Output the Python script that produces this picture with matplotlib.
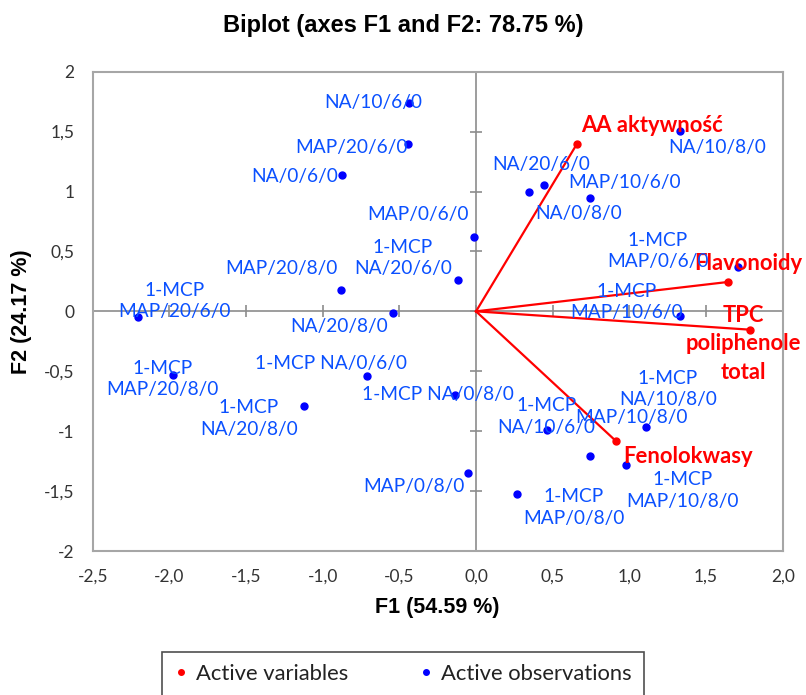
import matplotlib
matplotlib.use("Agg")
import matplotlib.pyplot as plt
from matplotlib.lines import Line2D

# observations (F1, F2)
obs_names = ["NA/10/6/0", "MAP/20/6/0", "NA/0/6/0", "MAP/0/6/0", "1-MCP\nNA/20/6/0",
             "MAP/20/8/0", "NA/20/8/0", "1-MCP\nMAP/20/6/0", "1-MCP\nMAP/20/8/0",
             "1-MCP\nNA/20/8/0", "1-MCP NA/0/6/0", "1-MCP NA/0/8/0", "MAP/0/8/0",
             "NA/10/8/0", "NA/20/6/0", "NA/0/8/0", "MAP/10/6/0", "1-MCP\nMAP/0/6/0",
             "1-MCP\nMAP/10/6/0", "1-MCP\nNA/10/6/0", "1-MCP\nNA/10/8/0", "MAP/10/8/0",
             "1-MCP\nMAP/10/8/0", "1-MCP\nMAP/0/8/0"]
obs_f1 = [-0.437, -0.446, -0.872, -0.011, -0.119, -0.881, -0.539, -2.203, -1.974,
          -1.122, -0.713, -0.137, -0.050, 1.331, 0.446, 0.348, 0.744, 1.707,
          1.331, 0.461, 1.107, 0.744, 0.977, 0.265]
obs_f2 = [1.742, 1.395, 1.139, 0.617, 0.264, 0.181, -0.013, -0.050, -0.528,
          -0.786, -0.542, -0.694, -1.347, 1.506, 1.056, 0.992, 0.950, 0.370,
          -0.042, -0.994, -0.967, -1.208, -1.286, -1.528]

# variables (F1, F2)
var_names = ["AA aktywność", "Flavonoidy", "TPC\npoliphenole\ntotal", "Fenolokwasy"]
var_f1 = [0.657, 1.642, 1.787, 0.913]
var_f2 = [1.395, 0.245, -0.153, -1.083]

xticks = [-2.5, -2.0, -1.5, -1.0, -0.5, 0.0, 0.5, 1.0, 1.5, 2.0]
xtick_labels = ["-2,5", "-2,0", "-1,5", "-1,0", "-0,5", "0,0", "0,5", "1,0", "1,5", "2,0"]
yticks = [-2, -1.5, -1, -0.5, 0, 0.5, 1, 1.5, 2]
ytick_labels = ["-2", "-1,5", "-1", "-0,5", "0", "0,5", "1", "1,5", "2"]

# label offsets in pixels (dx right, dy down) from each point
obs_off = [(-36, 0), (-56, 3), (-48, 2), (-56, -23), (-55, -22), (-60, -21), (-54, 14),
           (36, -16), (-11, 4), (-55, 13), (-36, -13), (-17, 0), (-54, 14), (37, 17),
           (-3, -20), (49, 21), (34, -15), (-80, -16), (-54, -14), (0, -14), (22, -38),
           (41, -39), (57, 25), (57, 13)]
var_off = [(75, -19), (21, -18), (-7, 14), (72, 15)]
var_spacing = [1.3, 1.3, 1.45, 1.3]

BLUE = "#0000ff"
BLUE_TXT = "#0a50ff"
RED = "#ff0000"
sans = ["Lato", "DejaVu Sans"]
arial = ["Liberation Sans", "DejaVu Sans"]

fig = plt.figure(figsize=(8.06, 6.95), dpi=100)
ax = fig.add_axes([92.7 / 806, 1 - 551 / 695, 690 / 806, (551 - 71.7) / 695])
ax.set_xlim(-2.5, 2.0)
ax.set_ylim(-2, 2)

for s in ax.spines.values():
    s.set_color("#a6a6a6")
    s.set_linewidth(1.5)

ax.axhline(0, color="#8c8c8c", lw=1.2, zorder=1)
ax.axvline(0, color="#8c8c8c", lw=1.2, zorder=1)
# cross ticks on the zero lines
ax.plot([0] * len(yticks), yticks, ls="none", marker="_", ms=9, mew=1.2, color="#8c8c8c", zorder=1)
ax.plot(xticks, [0] * len(xticks), ls="none", marker="|", ms=9, mew=1.2, color="#8c8c8c", zorder=1)

ax.set_xticks(xticks)
ax.set_xticklabels(xtick_labels)
ax.set_yticks(yticks)
ax.set_yticklabels(ytick_labels)
ax.tick_params(length=0, labelsize=12.5, labelcolor="#333333")
ax.tick_params(axis="x", pad=13)
ax.tick_params(axis="y", pad=13)
for lab in ax.get_xticklabels() + ax.get_yticklabels():
    lab.set_family(sans)

# variable vectors
for x, y in zip(var_f1, var_f2):
    ax.plot([0, x], [0, y], color=RED, lw=1.6, zorder=3)
ax.plot(var_f1, var_f2, ls="none", marker="o", ms=5, color=RED, zorder=4)
for name, x, y, (dx, dy), sp in zip(var_names, var_f1, var_f2, var_off, var_spacing):
    ax.annotate(name, (x, y), xytext=(dx, -dy), textcoords="offset pixels",
                ha="center", va="center", color=RED, fontsize=15.8, fontweight="bold",
                family=sans, linespacing=sp, zorder=5)

# observations
ax.plot(obs_f1, obs_f2, ls="none", marker="o", ms=5, color=BLUE, zorder=4)
for name, x, y, (dx, dy) in zip(obs_names, obs_f1, obs_f2, obs_off):
    ax.annotate(name, (x, y), xytext=(dx, -dy), textcoords="offset pixels",
                ha="center", va="center", color=BLUE_TXT, fontsize=13.8,
                family=sans, linespacing=1.3, zorder=5)

fig.text(0.5, 1 - 25.7 / 695, "Biplot (axes F1 and F2: 78.75 %)", ha="center", va="center",
         fontsize=17, fontweight="bold", family=arial)
fig.text(437.5 / 806, 1 - 607.7 / 695, "F1 (54.59 %)", ha="center", va="center",
         fontsize=15.5, fontweight="bold", family=arial)
fig.text(22 / 806, 1 - 312 / 695, "F2 (24.17 %)", ha="center", va="center", rotation=90,
         fontsize=15.5, fontweight="bold", family=arial)

handles = [Line2D([], [], ls="none", marker="o", ms=4, color=RED),
           Line2D([], [], ls="none", marker="o", ms=4, color=BLUE)]
leg = fig.legend(handles, ["Active variables", "Active observations"], ncol=2,
                 loc="upper center", bbox_to_anchor=(0.5, 1 - 652 / 695),
                 frameon=True, fancybox=False, edgecolor="#222222",
                 prop={"family": sans, "size": 15.8}, handlelength=0.6, handletextpad=0.4,
                 columnspacing=3.2, borderpad=0.55, borderaxespad=0)
leg.get_frame().set_linewidth(1.2)
for t in leg.get_texts():
    t.set_color("#222222")

fig.savefig("out.png", dpi=100)
